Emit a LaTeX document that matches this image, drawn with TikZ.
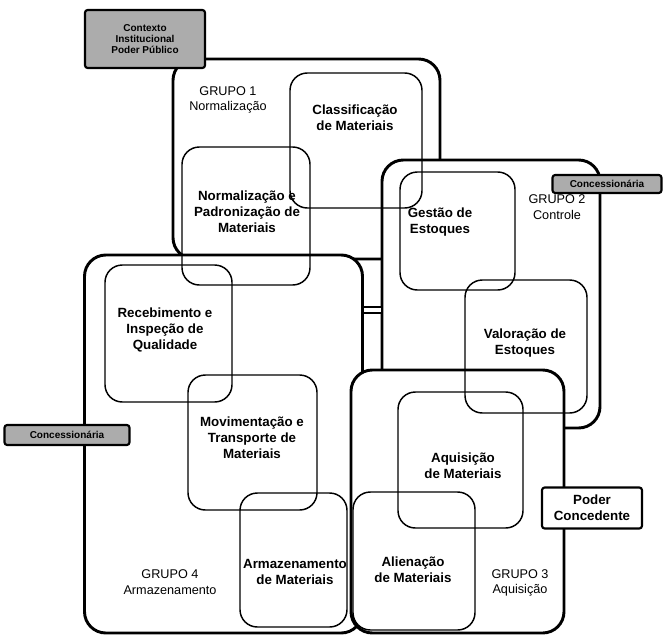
\documentclass[tikz,border=0pt]{standalone}
\usepackage{fontspec}
\setmainfont{Liberation Sans}
\usepackage{xcolor}
\usepackage{tikz}
\usetikzlibrary{calc}

\begin{document}
\begin{tikzpicture} [x=0.75pt, y=-0.75pt, line join=round,
        grupo/.style={draw, fill=white, line width=2.2pt, rounded corners=16pt, inner sep=0pt},
        area/.style={draw, line width=1.1pt, rounded corners=13pt, inner sep=0pt},
        areatext/.style={font=\fontsize{10}{12}\selectfont\bfseries, align=center},
        grupotext/.style={font=\fontsize{9.5}{11.5}\selectfont, align=center},
        ator/.style={draw, line width=1.6pt, fill=gray!65, rounded corners=2pt, inner sep=1pt,
                     font=\fontsize{7.5}{8.5}\selectfont\bfseries, align=center}]

        \useasboundingbox (0, 0) rectangle (671, 639);

        % grupos
        \node[grupo, minimum width=200.25pt, minimum height=150pt] (g1) at (306.5, 159) {};
        \node[grupo, minimum width=208.5pt, minimum height=283.5pt] (g4) at (223.5, 444) {};
        \node[grupo, minimum width=163.5pt, minimum height=201pt] (g2) at (491, 294) {};
        \node[grupo, minimum width=159.75pt, minimum height=197.25pt] (g3) at (457.5, 501.5) {};

        \coordinate (ligacao) at (0, 310);
        \draw[line width=1.2pt, double distance=3pt] (g4.east |- ligacao) -- (g2.west |- ligacao);

        % areas
        \node[area, minimum width=99pt, minimum height=101.25pt] (classif) at (356, 140.5) {};
        \node[area, minimum width=96pt, minimum height=103.5pt] (normal) at (246, 216) {};
        \node[area, minimum width=86.25pt, minimum height=88.5pt] (gestao) at (457.5, 231) {};
        \node[area, minimum width=91.5pt, minimum height=99.75pt] (valor) at (526, 346.5) {};
        \node[area, minimum width=95.25pt, minimum height=102.75pt] (receb) at (168.5, 333.5) {};
        \node[area, minimum width=96.75pt, minimum height=101.25pt] (movim) at (252.5, 442.5) {};
        \node[area, minimum width=80.25pt, minimum height=100.5pt] (armaz) at (293.5, 560) {};
        \node[area, minimum width=93.75pt, minimum height=102pt] (aquis) at (460.5, 460) {};
        \node[area, minimum width=91.5pt, minimum height=103.5pt] (alien) at (414, 561) {};

        \node[areatext] (classifT) at (355, 118) {Classificação\\de Materiais};
        \node[areatext] (normalT) at (247, 212) {Normalização e\\Padronização de\\Materiais};
        \node[areatext] (gestaoT) at (440, 222) {Gestão de\\Estoques};
        \node[areatext] (valorT) at (525, 343) {Valoração de\\Estoques};
        \node[areatext] (recebT) at (165, 330) {Recebimento e\\Inspeção de\\Qualidade};
        \node[areatext] (movimT) at (252, 438) {Movimentação e\\Transporte de\\Materiais};
        \node[areatext] (aquisT) at (463, 466) {Aquisição\\de Materiais};
        \node[areatext] (armazT) at (295, 572) {Armazenamento\\de Materiais};
        \node[areatext] (alienT) at (413, 570) {Alienação\\de Materiais};

        \node[grupotext] (g1T) at (228, 100) {GRUPO 1\\Normalização};
        \node[grupotext] (g2T) at (557, 207) {GRUPO 2\\Controle};
        \node[grupotext] (g3T) at (520, 583) {GRUPO 3\\Aquisição};
        \node[grupotext] (g4T) at (170, 582) {GRUPO 4\\Armazenamento};

        % atores
        \node[ator, minimum width=90pt, minimum height=43.5pt] (contexto) at (145, 39) {Contexto\\Institucional\\Poder Público};
        \node[ator, minimum width=81.75pt, minimum height=13.5pt] (concDir) at (607, 184) {Concessionária};
        \node[ator, minimum width=93.75pt, minimum height=15pt] (concEsq) at (67, 435) {Concessionária};
        \node[ator, fill=white, font=\fontsize{10}{12}\selectfont\bfseries, minimum width=75pt, minimum height=30.75pt] (poder) at (592, 508) {Poder\\Concedente};
\end{tikzpicture}
\end{document}
